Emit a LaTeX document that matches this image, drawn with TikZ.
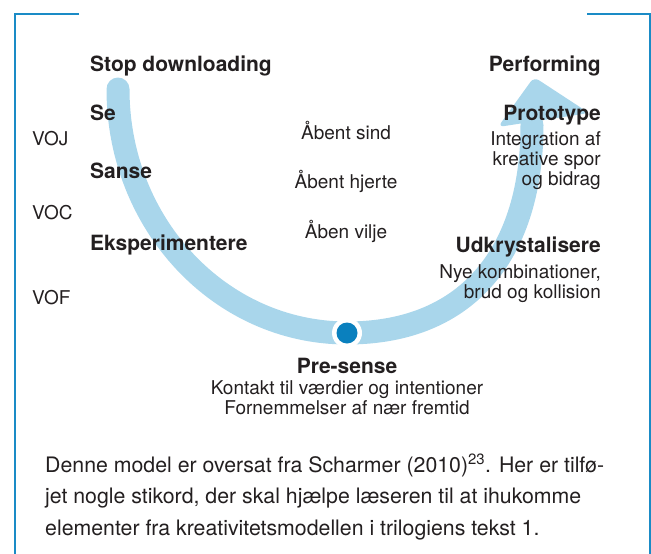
\documentclass[tikz,border=0pt]{standalone}
\usepackage{fontspec}
\setmainfont{TeX Gyre Heros}
\usetikzlibrary{arrows,positioning}
\definecolor{bandblue}{HTML}{A9D6EB}
\definecolor{frameblue}{HTML}{1A8BC6}
\definecolor{dotblue}{HTML}{0A80BE}
\definecolor{ink}{HTML}{231F20}

\begin{document}
\begin{tikzpicture}[x=1pt,y=-1pt,
    stage/.style={font=\fontsize{21}{24}\selectfont\bfseries,text=ink,inner sep=0pt},
    note/.style={font=\fontsize{19}{20}\selectfont,text=ink,inner sep=0pt},
    level/.style={font=\fontsize{19}{20}\selectfont,text=ink,inner sep=0pt,anchor=base west}]
		\useasboundingbox (0,0) rectangle (651,554);

		% frame
		\draw[frameblue,line width=2pt] (79,14) -- (15,14) -- (15,554);
		\draw[frameblue,line width=2pt] (587,14) -- (650,14) -- (650,554);

		% the U
		\draw[bandblue,line width=23pt,line cap=round] (118,89) .. controls (118,224) and (220,333) .. (347,333) .. controls (470,333) and (532,250) .. (532,125);
		\fill[bandblue,rounded corners=6pt] (498,127) -- (534,77) -- (589,113) -- cycle;
		\fill[white] (347,333) circle (15);
		\fill[dotblue] (347,333) circle (10.5);

		% left column
		\node[stage,anchor=base west] (stop) at (90,71) {Stop downloading};
		\node[stage,anchor=base west] (se) at (90,120) {Se};
		\node[stage,anchor=base west] (sanse) at (90,178) {Sanse};
		\node[stage,anchor=base west] (eksp) at (90,250) {Eksperimentere};

		\node[level] (voj) at (32,145) {VOJ};
		\node[level] (voc) at (32,219) {VOC};
		\node[level] (vof) at (32,304) {VOF};

		% middle
		\node[note,anchor=base] (sind) at (346,139) {Åbent sind};
		\node[note,anchor=base] (hjerte) at (346,188) {Åbent hjerte};
		\node[note,anchor=base] (vilje) at (346,238) {Åben vilje};

		% right column (multi-line nodes sit on their last baseline)
		\node[stage,anchor=base east] (perf) at (601,71) {Performing};
		\node[stage,anchor=base east] (proto) at (601,120) {Prototype};
		\node[note,anchor=base east,align=right] (protoTxt) at (601,185) {Integration af\\kreative spor\\og bidrag};
		\node[stage,anchor=base east] (udkr) at (601,252) {Udkrystalisere};
		\node[note,anchor=base east,align=right] (udkrTxt) at (601,298) {Nye kombinationer,\\brud og kollision};

		% bottom
		\node[stage,anchor=base] (pre) at (347,373) {Pre-sense};
		\node[note,anchor=base,align=center] (preTxt) at (347,414) {Kontakt til værdier og intentioner\\Fornemmelser af nær fremtid};

		% caption
		\node[note,anchor=base west,align=left,font=\fontsize{21.3}{31.5}\selectfont] (caption) at (45,535)
			{Denne model er oversat fra Scharmer (2010)\textsuperscript{23}. Her er tilfø-\\jet nogle stikord, der skal hjælpe læseren til at ihukomme\\elementer fra kreativitetsmodellen i trilogiens tekst 1.};
	\end{tikzpicture}
\end{document}
